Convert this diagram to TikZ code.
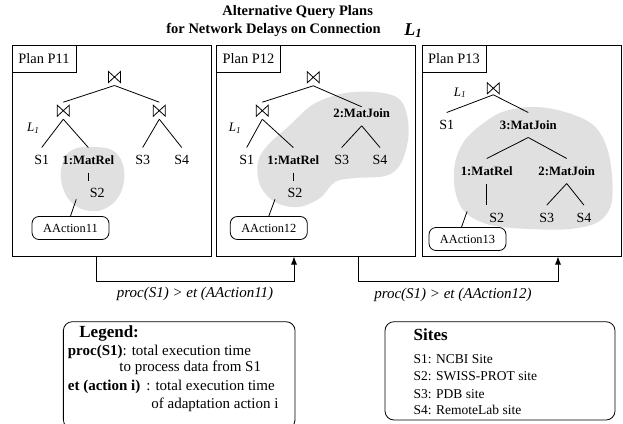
\documentclass[tikz,border=0pt]{standalone}
\usepackage{fontspec}
\setmainfont{Liberation Serif}
\usetikzlibrary{arrows.meta,calc}
\begin{document}
\begin{tikzpicture}[x=1pt,y=-1pt,line width=0.8pt,
 planbox/.style={draw, line width=1pt, minimum width=199pt, minimum height=211pt, inner sep=0pt},
 planlbl/.style={draw, line width=1pt, minimum width=64pt, minimum height=27pt, inner sep=0pt, anchor=north west, font=\fontsize{14.4}{16}\selectfont},
 joinop/.style={minimum width=14pt, minimum height=13pt, inner sep=0pt, outer sep=2pt,
   path picture={\draw[line width=0.8pt]
     ([shift={(1pt,-1pt)}]path picture bounding box.north west) --
     ([shift={(1pt,1pt)}]path picture bounding box.south west) --
     ([shift={(-1pt,-1pt)}]path picture bounding box.north east) --
     ([shift={(-1pt,1pt)}]path picture bounding box.south east) -- cycle;}},
 leaf/.style={font=\fontsize{14}{16}\selectfont, inner sep=0pt, text height=9pt, text depth=0pt, outer ysep=8pt},
 op/.style={leaf, font=\fontsize{12.75}{15}\selectfont\bfseries},
 act/.style={draw, rounded corners=7pt, minimum width=77pt, minimum height=23pt, inner sep=0pt, font=\fontsize{12.4}{14}\selectfont},
 lk/.style={font=\fontsize{13}{15}\selectfont\itshape, inner sep=0pt},
 blob/.style={fill=black!12},
 arr/.style={line width=0.8pt, -{Latex[length=8pt,width=6pt]}},
 cond/.style={font=\fontsize{15}{17}\selectfont\itshape, inner sep=0pt},
 ttl/.style={font=\fontsize{14.5}{17}\selectfont\bfseries, inner sep=0pt, anchor=base},
 roundbox/.style={draw, line width=0.8pt, rounded corners=9pt, inner sep=0pt},
 ltxt/.style={font=\fontsize{15}{17}\selectfont, inner sep=0pt, anchor=base west},
 stxt/.style={font=\fontsize{13.5}{16}\selectfont, inner sep=0pt, anchor=base west},
 head/.style={font=\fontsize{17}{19}\selectfont\bfseries, inner sep=0pt, anchor=base west}
]
\useasboundingbox (0,0) rectangle (623,423);

% title
\node[ttl] (t1) at (297.6,16) {Alternative Query Plans};
\node[ttl] (t2) at (273.5,33) {for Network Delays on Connection};
\node[font=\fontsize{18}{20}\selectfont\bfseries\itshape, inner sep=0pt, anchor=base west] (t3) at (404,35) {L\textsubscript{1}};

% shaded regions
\fill[blob] plot[smooth cycle, tension=0.7] coordinates {(62,165) (72,150) (95,147) (115,152) (124,170) (121,192) (108,207) (90,211) (72,203) (62,185)};
\fill[blob] plot[smooth cycle, tension=0.6] coordinates {(322,100) (345,93) (375,92) (398,98) (407,115) (408,140) (400,165) (385,176) (355,178) (335,182) (320,198) (298,207) (275,202) (260,185) (258,162) (268,145) (290,125) (308,108)};
\fill[blob] plot[smooth cycle, tension=0.6] coordinates {(505,111) (535,107) (565,112) (592,124) (606,145) (612,175) (611,205) (598,222) (570,229) (530,229) (490,225) (465,212) (455,190) (455,163) (465,140) (485,122)};

% plan boxes
\node[planbox] (p11) at (111.5,150.5) {};
\node[planbox] (p12) at (316,150.5) {};
\node[planbox] (p13) at (521.5,150.5) {};
\node[planlbl] (l11) at (p11.north west) {Plan P11};
\node[planlbl] (l12) at (p12.north west) {Plan P12};
\node[planlbl] (l13) at (p13.north west) {Plan P13};

% Plan P11
\node[joinop] (a0) at (114.5,77) {};
\node[joinop] (a1) at (63.3,110.7) {};
\node[joinop] (a2) at (159.3,110.7) {};
\node[leaf] (as1) at (41.7,160) {S1};
\node[op] (amr) at (88.3,160) {1:MatRel};
\node[leaf] (as3) at (142.7,160) {S3};
\node[leaf] (as4) at (181.7,160) {S4};
\node[leaf] (as2) at (97.3,193.3) {S2};
\node[lk] (al) at (33.3,128) {L\textsubscript{1}};
\node[act] (aa) at (70.5,228) {AAction11};
\draw (a0.south) -- (a1.north);
\draw (a0.south) -- (a2.north);
\draw (a1.south) -- (as1.north);
\draw (a1.south) -- (amr.north);
\draw (a2.south) -- (as3.north);
\draw (a2.south) -- (as4.north);
\draw (amr.south) -- (amr.south |- as2.north);
\draw ($(as2)+(-21,6)$) -- (aa.north);

% Plan P12
\node[joinop] (b0) at (313.3,77.3) {};
\node[joinop] (b1) at (262.3,110.7) {};
\node[op] (bmj) at (361.7,113.3) {2:MatJoin};
\node[leaf] (bs1) at (246.7,160) {S1};
\node[op] (bmr) at (293.3,160) {1:MatRel};
\node[leaf] (bs3) at (341.7,160) {S3};
\node[leaf] (bs4) at (380,160) {S4};
\node[leaf] (bs2) at (295,193.3) {S2};
\node[lk] (bl) at (235,128.3) {L\textsubscript{1}};
\node[act] (ba) at (268.8,228) {AAction12};
\draw (b0.south) -- (b1.north);
\draw (b0.south) -- ([yshift=-6pt]bmj.north);
\draw (b1.south) -- (bs1.north);
\draw (b1.south) -- (bmr.north);
\draw (bmj.south) -- (bs3.north);
\draw (bmj.south) -- (bs4.north);
\draw (bmr.south) -- (bmr.south |- bs2.north);
\draw ($(bs2)+(-20,6)$) -- (ba.north);

% Plan P13
\node[joinop, outer sep=0pt] (c0) at (493.3,88.3) {};
\node[lk] (cl) at (460,92.7) {L\textsubscript{1}};
\node[leaf] (cs1) at (446.7,125) {S1};
\node[op] (cm3) at (528.3,125) {3:MatJoin};
\node[op] (cmr) at (486.7,171) {1:MatRel};
\node[op] (cmj) at (566.7,171) {2:MatJoin};
\node[leaf] (cs2) at (496.7,217.7) {S2};
\node[leaf] (cs3) at (546.7,217.7) {S3};
\node[leaf] (cs4) at (584,217.7) {S4};
\node[act] (ca) at (467.5,239) {AAction13};
\draw (c0.south) -- (cs1.north);
\draw (c0.south) -- (cm3.north);
\draw (cm3.south) -- (cmr.north);
\draw (cm3.south) -- (cmj.north);
\draw (cmr.south) -- (cmr.south |- cs2.north);
\draw (cmj.south) -- (cs3.north);
\draw (cmj.south) -- (cs4.north);
\draw ($(ca.north)+(-6,0)$) -- ++(5.6,-15.7);

% transitions
\coordinate (r1a) at (96,281);
\coordinate (r1b) at (294,281);
\coordinate (r2a) at (358,281);
\coordinate (r2b) at (558,281);
\draw[arr] (p11.south -| r1a) -- (r1a) -- (r1b) -- (p12.south -| r1b);
\draw[arr] (p12.south -| r2a) -- (r2a) -- (r2b) -- (p13.south -| r2b);
\node[cond] (c1) at (195,294) {proc(S1) > et (AAction11)};
\node[cond] (c2) at (453,295) {proc(S1) > et (AAction12)};

% legend
\node[roundbox, minimum width=231.7pt, minimum height=107pt] (leg) at (179.2,375.2) {};
\node[head] (lh) at (79,337.5) {Legend:};
\node[ltxt] (lp) at (67.5,355) {\textbf{proc(S1)}: total execution time};
\node[ltxt] (lp2) at (119,371) {to process data from S1};
\node[ltxt] (le) at (67.5,390) {\textbf{et (action i)}\hspace{6pt}: total execution time};
\node[ltxt] (le2) at (151,408) {of adaptation action i};

% sites
\node[roundbox, minimum width=230pt, minimum height=98.3pt] (sites) at (500,370.85) {};
\node[head] (sh) at (413.3,340.5) {Sites};
\node[stxt] (s1) at (413.3,363) {S1: NCBI Site};
\node[stxt] (s2) at (413.3,380.7) {S2: SWISS-PROT site};
\node[stxt] (s3) at (413.3,398) {S3: PDB site};
\node[stxt] (s4) at (413.3,414.7) {S4: RemoteLab site};
\end{tikzpicture}
\end{document}
